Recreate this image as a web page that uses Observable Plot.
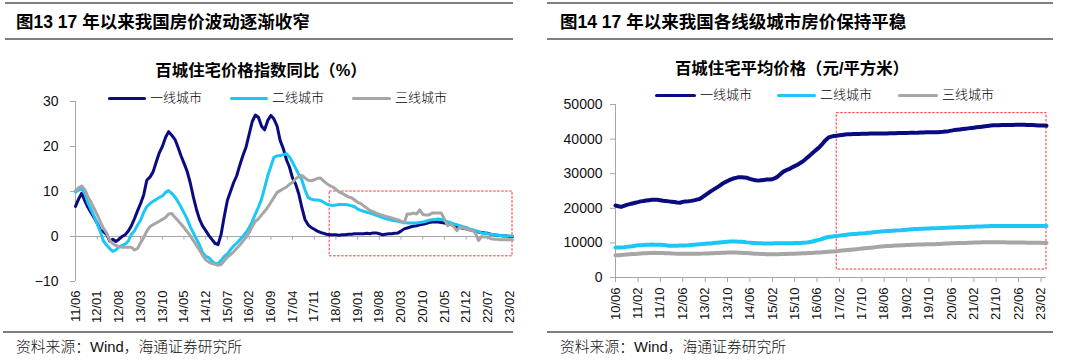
<!DOCTYPE html>
<html><head><meta charset="utf-8">
<script src="https://cdn.jsdelivr.net/npm/d3@7"></script>
<script src="https://cdn.jsdelivr.net/npm/@observablehq/plot@0.6"></script>
<style>
body{margin:0;background:#fff;}
#root{position:relative;width:1080px;height:364px;overflow:hidden;font-family:"Liberation Sans",Arial,"Noto Sans CJK SC",sans-serif;color:#000;}
.rule{position:absolute;height:2px;background:#7f7f7f;}
.title{position:absolute;top:11px;font-size:17.5px;font-weight:bold;white-space:nowrap;line-height:22px;}
.ctitle{position:absolute;font-size:16.4px;font-weight:bold;white-space:nowrap;transform:translateX(-50%);line-height:20px;}
.src{position:absolute;top:337px;font-size:14.8px;white-space:nowrap;line-height:20px;font-weight:300;color:#111;}
.plot{position:absolute;top:90px;width:540px;}
.leg{position:absolute;font-size:13px;white-space:nowrap;line-height:16px;font-weight:300;z-index:2;}
.sw{position:absolute;height:3px;border-radius:1.5px;z-index:2;}
.plot g[aria-label^="y-axis"] text{font-size:14px;}
.plot g[aria-label^="x-axis"] text{font-size:13px;}
.plot g[aria-label^="y-axis"] path,.plot g[aria-label^="y-axis"] line,.plot g[aria-label^="x-axis"] path,.plot g[aria-label^="x-axis"] line{stroke:#a6a6a6;}
</style>
</head><body>
<div id="root">
  <div class="rule" style="left:5px;width:508px;top:2px;"></div>
  <div class="rule" style="left:5px;width:508px;top:38px;"></div>
  <div class="rule" style="left:547px;width:506px;top:2px;"></div>
  <div class="rule" style="left:547px;width:506px;top:38px;"></div>
  <div class="title" style="left:16px;">图13 17 年以来我国房价波动逐渐收窄</div>
  <div class="title" style="left:560px;">图14 17 年以来我国各线级城市房价保持平稳</div>
  <div class="ctitle" style="left:261px;top:60px;">百城住宅价格指数同比（%）</div>
  <div class="ctitle" style="left:792px;top:58px;">百城住宅平均价格（元/平方米）</div>
  <div id="lp" class="plot" style="left:0px;"></div>
  <div id="rp" class="plot" style="left:540px;"></div>
  <div id="legends"></div>
  <div class="rule" style="left:3px;width:510px;top:331px;height:1.5px;"></div>
  <div class="rule" style="left:547px;width:506px;top:331px;height:1.5px;"></div>
  <div class="src" style="left:16px;">资料来源：Wind，海通证券研究所</div>
  <div class="src" style="left:560px;">资料来源：Wind，海通证券研究所</div>
</div>
<script>
// ---------- data ----------
const cityTiers = ["一线城市", "二线城市", "三线城市"];
const tierColors = ["#0b0b80", "#1cc6f6", "#a6a6a6"];

// Left chart: 百城住宅价格指数同比 (%), monthly from 2011-06
const leftStartMonth = "11/06";
const leftTier1 = [6.7,8.3,9.6,7.9,6.5,5.3,4.2,2.9,1.4,1.1,
 0.5,-1.0,-0.6,-1.1,-0.6,0.0,0.4,1.2,2.4,4.0,
 5.8,7.3,9.3,12.5,13.2,14.3,16.5,18.6,20.0,22.0,
 23.3,22.5,21.6,20.0,18.0,16.3,14.5,12.0,8.8,6.0,
 3.8,2.3,1.3,0.2,-0.7,-1.5,-1.8,0.5,4.5,8.0,
 10.0,12.0,13.5,15.9,18.0,19.9,22.8,25.5,27.0,26.5,
 24.5,23.7,25.8,26.9,26.1,24.5,21.3,19.5,17.0,15.5,
 13.0,11.7,9.5,6.5,3.8,2.6,2.0,1.6,1.2,0.9,
 0.7,0.5,0.4,0.4,0.4,0.3,0.4,0.4,0.5,0.5,
 0.6,0.6,0.6,0.6,0.7,0.6,0.8,0.8,0.6,0.4,
 0.5,0.6,0.6,0.7,0.8,1.2,1.7,1.9,2.1,2.3,
 2.4,2.6,2.7,2.9,3.1,3.2,3.2,3.2,3.1,3.0,
 2.8,2.7,2.4,2.2,2.0,1.8,1.7,1.5,1.4,1.2,
 1.0,0.9,0.8,0.7,0.5,0.4,0.3,0.2,0.1,0.1,
 0.0,0.0];
const leftTier2 = [9.9,10.3,10.6,9.6,7.5,6.0,4.5,2.8,1.0,-1.0,
 -1.9,-2.7,-3.3,-3.0,-2.3,-2.0,-1.7,-1.0,0.5,1.3,
 2.6,3.6,5.4,6.6,7.3,7.8,8.2,8.7,9.0,9.8,
 10.2,9.6,8.8,7.8,6.6,5.3,3.9,2.2,0.8,-0.6,
 -1.9,-3.6,-4.4,-4.7,-5.5,-6.0,-6.0,-5.3,-4.4,-3.9,
 -2.9,-2.1,-1.5,-0.7,0.0,0.9,2.0,3.3,5.0,6.5,
 8.3,10.8,13.5,15.6,17.6,17.9,18.0,18.2,18.4,17.7,
 16.5,15.2,13.8,12.6,10.4,8.7,8.3,8.1,8.1,8.0,
 7.6,7.2,7.0,6.9,7.0,7.1,7.1,7.1,7.0,6.8,
 6.6,6.1,5.8,5.6,5.4,5.2,5.0,4.7,4.5,4.2,
 4.0,3.8,3.6,3.5,3.4,3.2,3.1,3.0,3.0,3.0,
 3.0,3.1,3.2,3.4,3.6,3.7,3.8,3.9,3.8,3.6,
 3.3,3.1,2.8,2.6,2.4,2.2,2.0,1.7,1.5,1.3,
 1.1,0.8,0.7,0.6,0.5,0.4,0.3,0.2,0.1,0.1,
 0.1,0.1];
const leftTier3 = [10.2,10.8,11.2,10.4,8.8,7.6,6.2,4.8,3.2,1.8,
 0.8,-0.8,-1.6,-2.0,-2.2,-2.4,-2.4,-2.4,-2.4,-3.0,
 -2.6,-1.4,-0.2,1.2,2.2,2.6,3.0,3.4,3.8,4.2,
 5.0,5.1,4.3,3.6,2.8,2.0,1.1,0.2,-0.9,-2.0,
 -3.0,-4.2,-5.2,-5.7,-6.0,-6.2,-6.4,-6.2,-5.4,-4.6,
 -4.0,-3.4,-2.6,-1.9,-1.0,-0.2,0.9,2.2,3.4,3.9,
 4.8,5.6,6.5,7.6,8.7,9.8,10.2,10.6,11.0,11.6,
 12.0,12.8,13.3,13.6,13.0,12.5,12.4,12.6,12.9,13.0,
 12.3,11.8,11.3,11.0,10.5,9.9,9.6,9.2,8.8,8.6,
 8.1,7.6,7.3,6.8,6.3,5.8,5.5,5.2,4.9,4.7,
 4.5,4.3,4.1,3.9,3.7,3.4,3.0,5.0,5.0,5.2,
 5.0,5.9,4.9,4.8,4.8,5.2,5.2,5.2,5.2,3.9,
 2.4,2.8,2.2,1.3,2.1,1.9,1.7,1.5,1.3,0.8,
 -0.9,0.0,-0.1,-0.1,-0.5,-0.6,-0.6,-0.7,-0.7,-0.7,
 -0.7,-0.7];
const leftYTicks = [30, 20, 10, 0, -10];
const leftXTicks = ["11/06","12/01","12/08","13/03","13/10","14/05","14/12","15/07","16/02","16/09","17/04","17/11","18/06","19/01","19/08","20/03","20/10","21/05","21/12","22/07","23/02"];
const leftBox = [{from: "18/04", to: "23/03", low: -4.4, high: 10}];

// Right chart: 百城住宅平均价格 (元/平方米), monthly from 2010-06
const rightStartMonth = "10/06";
const rightTier1 = [20800,20600,20400,20700,21000,21200,21400,21600,21800,22000,
 22100,22250,22350,22450,22500,22450,22350,22200,22100,22000,
 21900,21800,21650,21600,21850,22000,22050,22150,22300,22500,
 22700,23200,23800,24300,24900,25400,25900,26400,27000,27500,
 27900,28300,28600,28800,29000,29000,28900,28800,28500,28300,
 28100,28000,28100,28200,28300,28300,28400,28700,29200,29900,
 30600,31000,31300,31800,32200,32600,33100,33600,34300,35000,
 35700,36400,37100,37800,38700,39700,40400,40700,40900,41000,
 41100,41200,41300,41400,41400,41450,41500,41500,41550,41550,
 41550,41600,41600,41600,41600,41650,41650,41650,41700,41700,
 41700,41750,41750,41750,41750,41800,41800,41800,41850,41900,
 41900,41950,41950,42000,42000,42000,42050,42100,42200,42300,
 42450,42600,42700,42800,42900,43000,43100,43200,43300,43400,
 43500,43600,43700,43800,43900,44000,44000,44000,44050,44050,
 44100,44100,44100,44150,44150,44150,44150,44100,44100,44050,
 44000,43950,43900,43900,43850];
const rightTier2 = [8650,8650,8700,8750,8850,8950,9050,9200,9300,9350,
 9400,9450,9500,9520,9500,9470,9430,9380,9300,9200,
 9150,9150,9200,9220,9240,9280,9320,9380,9450,9520,
 9600,9680,9750,9800,9850,9950,10050,10120,10200,10270,
 10330,10380,10400,10380,10330,10300,10250,10150,10080,10000,
 9950,9900,9870,9850,9820,9820,9850,9880,9900,9920,
 9920,9920,9930,9930,9950,9980,10000,10050,10100,10200,
 10350,10550,10750,10950,11200,11500,11700,11800,11900,12000,
 12100,12200,12300,12400,12500,12550,12600,12700,12750,12800,
 12900,12950,13050,13150,13250,13300,13370,13420,13470,13520,
 13570,13620,13660,13720,13780,13850,13920,13990,14050,14080,
 14120,14150,14180,14210,14240,14270,14300,14330,14360,14400,
 14430,14460,14490,14520,14550,14590,14620,14650,14680,14710,
 14740,14770,14800,14830,14850,14870,14890,14900,14910,14910,
 14920,14920,14920,14920,14920,14920,14910,14910,14910,14910,
 14910,14900,14900,14900,14900];
const rightTier3 = [6450,6450,6500,6550,6640,6700,6760,6820,6880,6930,
 6980,7020,7060,7100,7120,7110,7090,7060,7030,7000,
 6950,6900,6860,6830,6830,6830,6830,6830,6830,6830,
 6860,6900,6930,6960,6990,7020,7060,7100,7140,7180,
 7210,7220,7220,7200,7170,7140,7110,7060,7000,6950,
 6880,6830,6800,6770,6750,6730,6730,6730,6740,6760,
 6780,6800,6830,6860,6890,6920,6950,6990,7020,7060,
 7100,7150,7200,7250,7300,7360,7420,7480,7540,7620,
 7700,7780,7860,7940,8020,8100,8180,8270,8360,8450,
 8540,8620,8700,8780,8860,8940,9020,9080,9130,9180,
 9220,9260,9300,9330,9360,9400,9440,9480,9520,9540,
 9560,9580,9600,9610,9620,9660,9700,9750,9800,9850,
 9900,9920,9940,9960,9980,10000,10020,10050,10080,10110,
 10140,10170,10200,10200,10200,10200,10200,10200,10180,10160,
 10150,10140,10130,10120,10110,10100,10080,10060,10050,10040,
 10030,10020,10010,10000,10000];
const rightYTicks = [0, 10000, 20000, 30000, 40000, 50000];
const rightXTicks = ["10/06","11/02","11/10","12/06","13/02","13/10","14/06","15/02","15/10","16/06","17/02","17/10","18/06","19/02","19/10","20/06","21/02","21/10","22/06","23/02"];
const rightBox = [{from: "17/01", to: "23/04", low: 2300, high: 47500}];

// ---------- helpers ----------
const parseYM = d3.utcParse("%y/%m");
const fmtYM = d3.utcFormat("%y/%m");
const axisGray = "#a6a6a6";
const boxRed = "#ff3030";
function rowsFrom(startLabel, arrays) {
  const start = parseYM(startLabel);
  return arrays.flatMap((vals, k) => vals.map((v, i) => ({date: d3.utcMonth.offset(start, i), value: v, series: cityTiers[k]})));
}
const baseStyle = {background: "transparent", fontFamily: "'Liberation Sans', Arial, sans-serif", fontSize: "13px", color: "#111", overflow: "visible"};

// ---------- left ----------
const leftRows = rowsFrom(leftStartMonth, [leftTier1, leftTier2, leftTier3]);
const leftStart = parseYM(leftStartMonth);
const leftEnd = d3.max(leftRows, d => d.date);
const leftTickDates = leftXTicks.map(parseYM);
const leftPlot = Plot.plot({
  width: 540, height: 241,
  marginLeft: 75, marginRight: 28, marginTop: 11, marginBottom: 50,
  style: baseStyle,
  x: {type: "utc", domain: [leftStart, leftEnd], ticks: leftTickDates, tickFormat: fmtYM, tickRotate: -90, tickSize: 0, tickPadding: 9, label: null},
  y: {domain: [d3.min(leftYTicks), d3.max(leftYTicks)], ticks: leftYTicks, tickSize: 5, tickPadding: 12, label: null},
  color: {domain: cityTiers, range: tierColors},
  marks: [
    Plot.ruleX([leftStart], {stroke: axisGray, strokeWidth: 1}),
    Plot.ruleY([0], {stroke: axisGray, strokeWidth: 1}),
    Plot.ruleX(leftTickDates, {x: d => d, y1: 0, y2: -0.8, stroke: axisGray}),
    Plot.rect(leftBox, {x1: d => parseYM(d.from), x2: d => parseYM(d.to), y1: "low", y2: "high", fill: "none", stroke: boxRed, strokeWidth: 1, strokeDasharray: "2.5,1.5"}),
    Plot.line(leftRows, {x: "date", y: "value", z: "series", stroke: "series", strokeWidth: 3, strokeLinejoin: "round"})
  ]
});
document.getElementById("lp").appendChild(leftPlot);

// ---------- right ----------
const rightRows = rowsFrom(rightStartMonth, [rightTier1, rightTier2, rightTier3]);
const rightStart = parseYM(rightStartMonth);
const rightEnd = d3.max(rightRows, d => d.date);
const rightTickDates = rightXTicks.map(parseYM);
const rightPlot = Plot.plot({
  width: 540, height: 237,
  marginLeft: 75, marginRight: 34, marginTop: 14, marginBottom: 50,
  style: baseStyle,
  x: {type: "utc", domain: [rightStart, rightEnd], ticks: rightTickDates, tickFormat: fmtYM, tickRotate: -90, tickSize: 5, tickPadding: 5, label: null},
  y: {domain: [d3.min(rightYTicks), d3.max(rightYTicks)], ticks: rightYTicks, tickFormat: d3.format("d"), tickSize: 5, tickPadding: 8, label: null},
  color: {domain: cityTiers, range: tierColors},
  marks: [
    Plot.ruleX([rightStart], {stroke: axisGray, strokeWidth: 1}),
    Plot.ruleY([0], {stroke: axisGray, strokeWidth: 1}),
    Plot.rect(rightBox, {x1: d => parseYM(d.from), x2: d => parseYM(d.to), y1: "low", y2: "high", fill: "none", stroke: boxRed, strokeWidth: 1, strokeDasharray: "2.5,1.5"}),
    Plot.line(rightRows, {x: "date", y: "value", z: "series", stroke: "series", strokeWidth: 4, strokeLinejoin: "round"})
  ]
});
document.getElementById("rp").appendChild(rightPlot);

// ---------- legends (HTML) ----------
const legendLayout = [
  {y: 98, items: [[108, 150], [230, 272], [352, 395]]},
  {y: 95, items: [[655, 700], [777, 820], [898, 942]]}
];
const legHost = document.getElementById("legends");
legendLayout.forEach(L => {
  L.items.forEach(([sx, tx], k) => {
    const sw = document.createElement("div");
    sw.className = "sw";
    sw.style.left = sx + "px"; sw.style.width = (tx - sx - 4) + "px";
    sw.style.top = (L.y - 1.5) + "px"; sw.style.background = tierColors[k];
    legHost.appendChild(sw);
    const t = document.createElement("div");
    t.className = "leg";
    t.style.left = tx + "px"; t.style.top = (L.y - 8) + "px";
    t.textContent = cityTiers[k];
    legHost.appendChild(t);
  });
});
</script>
</body></html>
